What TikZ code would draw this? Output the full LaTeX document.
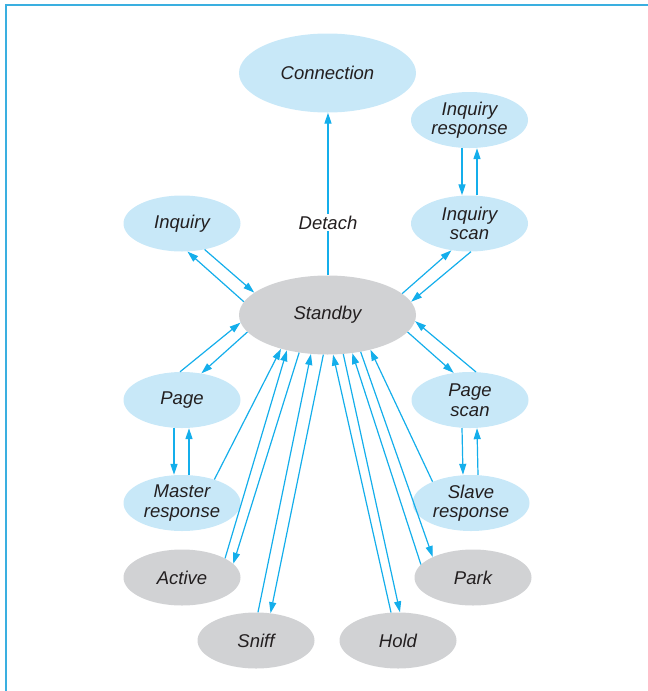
\documentclass[tikz,border=0pt]{standalone}
\usepackage{fontspec}
\setmainfont{Liberation Sans}
\usetikzlibrary{shapes.geometric,arrows.meta}
\definecolor{paleblue}{HTML}{C8E8F8}
\definecolor{stategray}{HTML}{D1D2D4}
\definecolor{linkcyan}{HTML}{14AEEB}
\definecolor{framecyan}{HTML}{3AAFE0}
\definecolor{inkgray}{HTML}{231F20}
\begin{document}
\begin{tikzpicture}[x=1pt,y=-1pt,
  statetext/.style={text=inkgray, font=\fontsize{18.5}{19.5}\selectfont\itshape},
  state/.style={ellipse, inner sep=0pt, align=center, statetext},
  smallstate/.style={state, minimum width=117pt, minimum height=56pt},
  bigstate/.style={state, minimum width=177pt, minimum height=79pt},
  lightstate/.style={fill=paleblue},
  greystate/.style={fill=stategray},
  link/.style={draw=linkcyan, line width=1.2pt, -{Triangle[length=11pt,width=7pt]}},
  frameline/.style={draw=framecyan, line width=1.6pt},
]
\useasboundingbox (0,0) rectangle (648,691);

% frame
\draw[frameline] (6,691) -- (6,5) -- (648,5);

% states
\node[bigstate, lightstate]   (con)   at (327.5,73)  {Connection};
\node[bigstate, greystate]    (stb)   at (327.5,315) {Standby};
\node[smallstate, lightstate] (iqr)   at (469.5,120) {Inquiry\\response};
\node[smallstate, lightstate] (iqs)   at (469.5,223.5) {Inquiry\\scan};
\node[smallstate, lightstate] (iq)    at (182,223.5) {Inquiry};
\node[smallstate, lightstate] (pg)    at (182,400)   {Page};
\node[smallstate, lightstate] (pgs)   at (470,400)   {Page\\scan};
\node[smallstate, lightstate] (mr)    at (182,503)   {Master\\response};
\node[smallstate, lightstate] (sr)    at (471,503)   {Slave\\response};
\node[smallstate, greystate]  (act)   at (182,577.5) {Active};
\node[smallstate, greystate]  (park)  at (473,577.5) {Park};
\node[smallstate, greystate]  (sniff) at (256,640.5) {Sniff};
\node[smallstate, greystate]  (hold)  at (398,640.5) {Hold};

% detach
\draw[link] ([xshift=0.5pt]stb.north) -- node[pos=0.325, fill=white, inner sep=2pt, statetext] {Detach} ([xshift=0.5pt]con.south);

% inquiry
\draw[link] (stb.171) -- (iq.-79);
\draw[link] (iq.-49) -- (stb.163);
\draw[link] (stb.16.5) -- (iqs.-124);
\draw[link] (iqs.-87) -- (stb.9.7);
\draw[link] ([xshift=-7.5pt]iqr.south) -- ([xshift=-7.5pt]iqs.north);
\draw[link] ([xshift=7.5pt]iqs.north) -- ([xshift=7.5pt]iqr.south);

% page
\draw[link] (pg.94) -- (stb.-175.5);
\draw[link] (stb.-168) -- (pg.54.5);
\draw[link] ([xshift=-8pt]pg.south) -- ([xshift=-8pt]mr.north);
\draw[link] ([xshift=7pt]mr.north) -- ([xshift=7pt]pg.south);

% page scan
\draw[link] (stb.-12) -- (pgs.121);
\draw[link] (pgs.78) -- (stb.-4.4);
\draw[link] ([xshift=-8pt]pgs.south) -- ([xshift=-8pt]sr.north);
\draw[link] ([xshift=7pt]sr.north) -- ([xshift=7pt]pgs.south);

% fan below standby
\draw[link] (mr.36) -- (stb.-144.8);
\draw[link] (act.24) -- (stb.-139);
\draw[link] (stb.-127) -- (act.15);
\draw[link] (sniff.86) -- (stb.-113.6);
\draw[link] (stb.-96.4) -- (sniff.62);
\draw[link] (hold.104) -- (stb.-82.2);
\draw[link] (stb.-68.8) -- (hold.86);
\draw[link] (park.166) -- (stb.-57.5);
\draw[link] (stb.-48.6) -- (park.153);
\draw[link] (sr.151) -- (stb.-39.1);
\end{tikzpicture}
\end{document}
